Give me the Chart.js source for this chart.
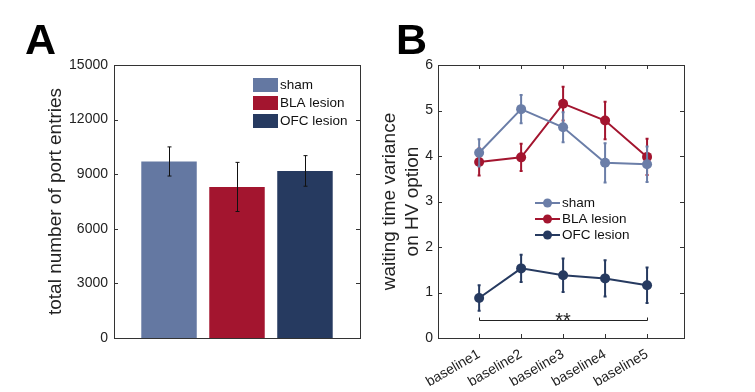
<!DOCTYPE html>
<html>
<head>
<meta charset="utf-8">
<script src="https://cdn.jsdelivr.net/npm/chart.js@4.4.1/dist/chart.umd.min.js"></script>
<style>
  html, body { margin: 0; padding: 0; background: #fff; }
  #wrap { position: relative; width: 755px; height: 392px; }
  canvas { position: absolute; top: 0; }
  #chartA { left: 0; }
  #chartB { left: 378px; }
</style>
</head>
<body>
<div id="wrap">
  <canvas id="chartA" width="378" height="392"></canvas>
  <canvas id="chartB" width="377" height="392"></canvas>
</div>
<script>
// panel A: port entries
var groups = ['sham', 'BLA lesion', 'OFC lesion'];
var portEntries = [9700, 8300, 9180];
var portEntriesErr = [800, 1350, 840];
var portTicks = [0, 3000, 6000, 9000, 12000, 15000];

// panel B: waiting time variance
var sessions = ['baseline1', 'baseline2', 'baseline3', 'baseline4', 'baseline5'];
var shamVar = [4.07, 5.03, 4.63, 3.85, 3.82];
var shamErr = [0.30, 0.31, 0.33, 0.43, 0.39];
var blaVar = [3.87, 3.97, 5.15, 4.78, 3.98];
var blaErr = [0.30, 0.30, 0.37, 0.41, 0.40];
var ofcVar = [0.88, 1.53, 1.38, 1.31, 1.16];
var ofcErr = [0.28, 0.30, 0.37, 0.40, 0.39];
var varTicks = [0, 1, 2, 3, 4, 5, 6];
var sigLabel = '**';
var sigLevel = 0.4;

var FONT = "'Liberation Sans', Arial, sans-serif";
var TEXT = '#222';
var barColors = ['#6478A2', '#A3152F', '#263A60'];
var lineColors = ['#6B7EA8', '#A3152F', '#263A60'];

Chart.defaults.font.family = FONT;
Chart.defaults.color = TEXT;

// box round the plot with inward tick marks
function drawFrame(chart, xTicks, yTicks) {
    var ctx = chart.ctx, a = chart.chartArea;
    var ys = chart.scales.y, xs = chart.scales.x;
    ctx.save();
    ctx.strokeStyle = '#333';
    ctx.lineWidth = 1;
    ctx.strokeRect(Math.round(a.left) + 0.5, Math.round(a.top) + 0.5,
        Math.round(a.right - a.left), Math.round(a.bottom - a.top));
    ctx.beginPath();
    yTicks.forEach(function (v) {
        var py = Math.round(ys.getPixelForValue(v)) + 0.5;
        ctx.moveTo(a.left, py); ctx.lineTo(a.left + 4, py);
        ctx.moveTo(a.right, py); ctx.lineTo(a.right - 4, py);
    });
    xTicks.forEach(function (v) {
        var px = Math.round(xs.getPixelForValue(v)) + 0.5;
        ctx.moveTo(px, a.bottom); ctx.lineTo(px, a.bottom - 4);
        ctx.moveTo(px, a.top); ctx.lineTo(px, a.top + 4);
    });
    ctx.stroke();
    ctx.restore();
}

function panelLetter(ctx, letter, x) {
    ctx.save();
    ctx.font = 'bold 43px ' + FONT;
    ctx.fillStyle = '#000';
    ctx.textBaseline = 'alphabetic';
    ctx.fillText(letter, x, 54);
    ctx.restore();
}

function yTitle(ctx, lines, xs, yc) {
    ctx.save();
    ctx.font = '19px ' + FONT;
    ctx.fillStyle = TEXT;
    ctx.textAlign = 'center';
    ctx.textBaseline = 'middle';
    lines.forEach(function (t, i) {
        ctx.save();
        ctx.translate(xs[i], yc);
        ctx.rotate(-Math.PI / 2);
        ctx.fillText(t, 0, 0);
        ctx.restore();
    });
    ctx.restore();
}

var panelA = {
    id: 'panelA',
    afterDatasetsDraw: function (chart) {
        var ctx = chart.ctx, ys = chart.scales.y;
        ctx.save();
        ctx.strokeStyle = '#111';
        ctx.lineWidth = 1;
        chart.data.datasets.forEach(function (ds, i) {
            var bar = chart.getDatasetMeta(i).data[0];
            var x = Math.round(bar.x) + 0.5;
            var top = ys.getPixelForValue(portEntries[i] + portEntriesErr[i]);
            var bot = ys.getPixelForValue(portEntries[i] - portEntriesErr[i]);
            ctx.beginPath();
            ctx.moveTo(x, top); ctx.lineTo(x, bot);
            ctx.moveTo(x - 2, top); ctx.lineTo(x + 2, top);
            ctx.moveTo(x - 2, bot); ctx.lineTo(x + 2, bot);
            ctx.stroke();
        });
        ctx.restore();
    },
    afterDraw: function (chart) {
        var ctx = chart.ctx;
        drawFrame(chart, [], portTicks);
        panelLetter(ctx, 'A', 25);
        var a = chart.chartArea;
        yTitle(ctx, ['total number of port entries'], [56], (a.top + a.bottom) / 2);
        // legend
        ctx.save();
        ctx.font = '13.5px ' + FONT;
        ctx.textBaseline = 'middle';
        var rows = [85, 103, 121];
        chart.data.datasets.forEach(function (ds, i) {
            ctx.fillStyle = ds.backgroundColor;
            ctx.fillRect(253, rows[i] - 7, 25, 14);
            ctx.fillStyle = '#111';
            ctx.fillText(ds.label, 280, rows[i]);
        });
        ctx.restore();
    }
};

var errsB = [shamErr, blaErr, ofcErr];

var panelB = {
    id: 'panelB',
    beforeDatasetDraw: function (chart, args) {
        var ctx = chart.ctx, ys = chart.scales.y;
        var ds = chart.data.datasets[args.index];
        var err = errsB[args.index];
        ctx.save();
        ctx.strokeStyle = ds.borderColor;
        ctx.lineWidth = 2;
        args.meta.data.forEach(function (pt, j) {
            var v = ds.data[j].y;
            var top = ys.getPixelForValue(v + err[j]);
            var bot = ys.getPixelForValue(v - err[j]);
            ctx.beginPath();
            ctx.moveTo(pt.x, top); ctx.lineTo(pt.x, bot);
            ctx.moveTo(pt.x - 1.5, top); ctx.lineTo(pt.x + 1.5, top);
            ctx.moveTo(pt.x - 1.5, bot); ctx.lineTo(pt.x + 1.5, bot);
            ctx.stroke();
        });
        ctx.restore();
    },
    afterDraw: function (chart) {
        var ctx = chart.ctx, xs = chart.scales.x, ys = chart.scales.y;
        drawFrame(chart, sessions.map(function (s, i) { return i; }), varTicks);
        panelLetter(ctx, 'B', 18);
        var a = chart.chartArea;
        yTitle(ctx, ['waiting time variance', 'on HV option'], [11.5, 34.5], (a.top + a.bottom) / 2);
        // significance bracket
        var x0 = Math.round(xs.getPixelForValue(0)) + 0.5;
        var x1 = Math.round(xs.getPixelForValue(sessions.length - 1)) + 0.5;
        var yl = Math.round(ys.getPixelForValue(sigLevel)) + 0.5;
        ctx.save();
        ctx.strokeStyle = '#222';
        ctx.lineWidth = 1;
        ctx.beginPath();
        ctx.moveTo(x0, yl - 3); ctx.lineTo(x0, yl); ctx.lineTo(x1, yl); ctx.lineTo(x1, yl - 3);
        ctx.stroke();
        ctx.font = '20px ' + FONT;
        ctx.fillStyle = '#222';
        ctx.textAlign = 'center';
        ctx.textBaseline = 'alphabetic';
        ctx.fillText(sigLabel, xs.getPixelForValue(2), yl + 6);
        ctx.restore();
        // legend
        ctx.save();
        ctx.font = '13.5px ' + FONT;
        ctx.textBaseline = 'middle';
        var rows = [203, 219, 235];
        chart.data.datasets.forEach(function (ds, i) {
            ctx.strokeStyle = ds.borderColor;
            ctx.lineWidth = 2;
            ctx.beginPath();
            ctx.moveTo(535 - 378, rows[i]); ctx.lineTo(560 - 378, rows[i]);
            ctx.stroke();
            ctx.fillStyle = ds.borderColor;
            ctx.beginPath();
            ctx.arc(547.5 - 378, rows[i], 4.5, 0, Math.PI * 2);
            ctx.fill();
            ctx.fillStyle = '#111';
            ctx.fillText(ds.label, 562 - 378, rows[i] + 0.5);
        });
        ctx.restore();
    }
};

function inicializarCharts() {
    var barData = {
        labels: [''],
        datasets: groups.map(function (g, i) {
            return {
                label: g,
                data: [portEntries[i]],
                backgroundColor: barColors[i],
                barPercentage: 0.816,
                categoryPercentage: 0.829
            };
        })
    };

    new Chart(document.getElementById('chartA'), {
        type: 'bar',
        data: barData,
        options: {
            responsive: false,
            animation: false,
            events: [],
            layout: { padding: { left: 0, right: 18, top: 65, bottom: 54 } },
            plugins: { legend: { display: false }, tooltip: { enabled: false } },
            scales: {
                x: { display: false },
                y: {
                    min: 0, max: 15000,
                    afterFit: function (s) { s.width = 114; },
                    afterBuildTicks: function (s) { s.ticks = portTicks.map(function (v) { return { value: v }; }); },
                    grid: { display: false, drawTicks: false },
                    border: { display: false },
                    ticks: {
                        padding: 6, font: { size: 14 }, color: TEXT,
                        callback: function (v) { return String(v); }
                    }
                }
            }
        },
        plugins: [panelA]
    });

    var series = [shamVar, blaVar, ofcVar];
    var lineData = {
        datasets: ['sham', 'BLA lesion', 'OFC lesion'].map(function (g, i) {
            return {
                label: g,
                data: series[i].map(function (v, j) { return { x: j, y: v }; }),
                borderColor: lineColors[i],
                backgroundColor: lineColors[i],
                pointBackgroundColor: lineColors[i],
                pointBorderWidth: 0,
                pointRadius: 5,
                borderWidth: 2,
                tension: 0
            };
        })
    };

    new Chart(document.getElementById('chartB'), {
        type: 'line',
        data: lineData,
        options: {
            responsive: false,
            animation: false,
            events: [],
            layout: { padding: { left: 0, right: 71, top: 65, bottom: 0 } },
            plugins: { legend: { display: false }, tooltip: { enabled: false } },
            scales: {
                x: {
                    type: 'linear',
                    min: -0.98, max: 4.88,
                    afterFit: function (s) { s.height = 54; },
                    afterBuildTicks: function (s) { s.ticks = sessions.map(function (n, i) { return { value: i }; }); },
                    grid: { display: false, drawTicks: false },
                    border: { display: false },
                    ticks: {
                        autoSkip: false, minRotation: 30, maxRotation: 30, padding: 8,
                        font: { size: 14 }, color: TEXT,
                        callback: function (v) { return sessions[v] || ''; }
                    }
                },
                y: {
                    min: 0, max: 6,
                    afterFit: function (s) { s.width = 60; },
                    afterBuildTicks: function (s) { s.ticks = varTicks.map(function (v) { return { value: v }; }); },
                    grid: { display: false, drawTicks: false },
                    border: { display: false },
                    ticks: { padding: 5, font: { size: 14 }, color: TEXT }
                }
            }
        },
        plugins: [panelB]
    });
}

inicializarCharts();
</script>
</body>
</html>
